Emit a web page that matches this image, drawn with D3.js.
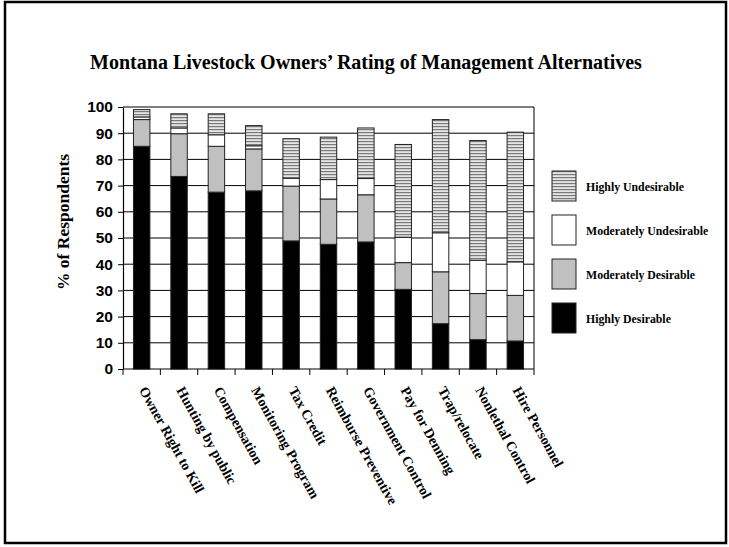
<!DOCTYPE html>
<html>
<head>
<meta charset="utf-8">
<script src="https://cdn.jsdelivr.net/npm/d3@7"></script>
<style>
  html, body { margin: 0; padding: 0; background: #fff; }
  svg { display: block; }
</style>
</head>
<body>
<svg id="chart" width="729" height="547"></svg>
<script>
const categories = ["Owner Right to Kill", "Hunting by public", "Compensation", "Monitoring Program", "Tax Credit", "Reimburse Preventive", "Government Control", "Pay for Denning", "Trap/relocate", "Nonlethal Control", "Hire Personnel"];
const highlyDesirable      = [85.0, 73.5, 67.5, 68.0, 48.9, 47.6, 48.5, 30.4, 17.3, 11.2, 10.7];
const moderatelyDesirable  = [10.2, 16.3, 17.5, 16.0, 20.9, 17.3, 18.0, 10.2, 19.8, 17.6, 17.4];
const moderatelyUndesirable= [ 1.0,  2.2,  4.4,  1.2,  3.0,  7.4,  6.2,  9.7, 14.9, 12.7, 12.8];
const highlyUndesirable    = [ 2.8,  5.4,  8.0,  7.7, 15.1, 16.2, 19.3, 35.4, 43.2, 45.7, 49.5];
const seriesNames = ["Highly Desirable", "Moderately Desirable", "Moderately Undesirable", "Highly Undesirable"];
const yTicks = [0, 10, 20, 30, 40, 50, 60, 70, 80, 90, 100];
const titleText = "Montana Livestock Owners\u2019 Rating of Management Alternatives";
const yTitle = "% of Respondents";

const svg = d3.select("#chart");
const serif = "'Liberation Serif', 'Times New Roman', serif";
const sans = "'Liberation Sans', Arial, sans-serif";

// pattern for hatched series
const defs = svg.append("defs");
const pat = defs.append("pattern").attr("id", "hatch")
  .attr("patternUnits", "userSpaceOnUse").attr("width", 6).attr("height", 3);
pat.append("rect").attr("width", 6).attr("height", 3).attr("fill", "#e6e6e6");
pat.append("rect").attr("y", 0).attr("width", 6).attr("height", 1.2).attr("fill", "#7a7a7a");

const fills = ["#000000", "#c0c0c0", "#ffffff", "url(#hatch)"];

// outer border
svg.append("rect").attr("x", 5).attr("y", 2).attr("width", 721).attr("height", 541)
  .attr("fill", "none").attr("stroke", "#000").attr("stroke-width", 2.5);

const plotLeft = 123, plotRight = 534, plotTop = 107, plotBottom = 369;

const x = d3.scaleBand().domain(categories).range([plotLeft, plotRight])
  .paddingInner(0.56).paddingOuter(0.28);
const y = d3.scaleLinear().domain([0, 100]).range([plotBottom, plotTop]);

// gridlines
svg.append("g").selectAll("line").data(yTicks.filter(t => t > 0)).join("line")
  .attr("x1", plotLeft).attr("x2", plotRight)
  .attr("y1", d => y(d)).attr("y2", d => y(d))
  .attr("stroke", "#000").attr("stroke-width", 1);
// right frame
svg.append("line").attr("x1", plotRight).attr("x2", plotRight).attr("y1", y(100)).attr("y2", y(0))
  .attr("stroke", "#000").attr("stroke-width", 1);

// stack data
const rows = categories.map((c, i) => ({
  cat: c,
  "Highly Desirable": highlyDesirable[i],
  "Moderately Desirable": moderatelyDesirable[i],
  "Moderately Undesirable": moderatelyUndesirable[i],
  "Highly Undesirable": highlyUndesirable[i]
}));
const stack = d3.stack().keys(seriesNames)(rows);

svg.append("g").selectAll("g").data(stack).join("g")
  .attr("fill", (d, i) => fills[i])
  .selectAll("rect").data(d => d).join("rect")
  .attr("x", d => x(d.data.cat))
  .attr("width", x.bandwidth())
  .attr("y", d => y(d[1]))
  .attr("height", d => y(d[0]) - y(d[1]))
  .attr("stroke", "#222").attr("stroke-width", 1);

// y axis
const yAxis = d3.axisLeft(y).tickValues(yTicks).tickSize(5).tickPadding(5).tickSizeOuter(0);
const gy = svg.append("g").attr("transform", `translate(${plotLeft},0)`).call(yAxis);
gy.select(".domain").attr("stroke", "#000").attr("stroke-width", 1.2);
gy.selectAll(".tick line").attr("stroke", "#000");
gy.selectAll(".tick text").attr("font-family", sans).attr("font-weight", "bold")
  .attr("font-size", 15.5).attr("fill", "#000");

// x axis
const step = x.step();
const gx = svg.append("g").attr("transform", `translate(0,${plotBottom})`);
gx.append("line").attr("x1", plotLeft).attr("x2", plotRight).attr("y1", 0).attr("y2", 0)
  .attr("stroke", "#000").attr("stroke-width", 1.2);
const boundaries = categories.map(c => x(c) - (step - x.bandwidth()) / 2).concat([plotRight]);
gx.selectAll("line.tk").data(boundaries).join("line").attr("class", "tk")
  .attr("x1", d => d).attr("x2", d => d).attr("y1", 0).attr("y2", 6)
  .attr("stroke", "#000");
const labelG = svg.append("g");
labelG.selectAll("text").data(categories).join("text")
  .attr("transform", c => `translate(${x(c) + x.bandwidth() / 2 - 3},${plotBottom + 21}) rotate(61)`)
  .attr("text-anchor", "start")
  .attr("font-family", serif).attr("font-weight", "bold").attr("font-size", 14)
  .text(c => c);

// title
svg.append("text").attr("x", 366).attr("y", 69).attr("text-anchor", "middle")
  .attr("font-family", serif).attr("font-weight", "bold").attr("font-size", 20)
  .text(titleText);

// y title
svg.append("text").attr("transform", `translate(69,222) rotate(-90)`)
  .attr("text-anchor", "middle")
  .attr("font-family", serif).attr("font-weight", "bold").attr("font-size", 17.5)
  .text(yTitle);

// legend
const legendOrder = seriesNames.map((n, i) => ({ name: n, fill: fills[i] })).reverse();
const legendY = d3.scalePoint().domain(legendOrder.map(d => d.name)).range([171, 303]);
const lg = svg.append("g").selectAll("g").data(legendOrder).join("g")
  .attr("transform", d => `translate(552,${legendY(d.name)})`);
lg.append("rect").attr("width", 24).attr("height", 30)
  .attr("fill", d => d.fill).attr("stroke", "#222").attr("stroke-width", 1);
lg.append("text").attr("x", 34).attr("y", 19.5)
  .attr("font-family", serif).attr("font-weight", "bold").attr("font-size", 11.8)
  .text(d => d.name);
</script>
</body>
</html>
